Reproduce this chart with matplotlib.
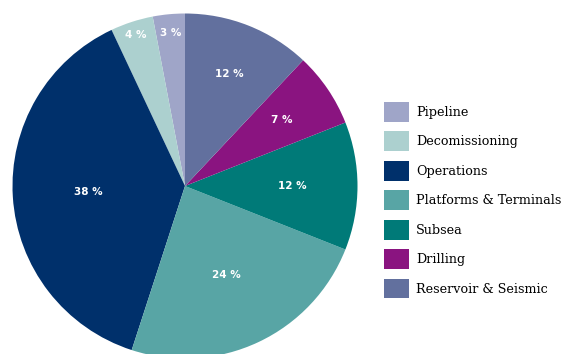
import matplotlib
matplotlib.use("Agg")
import matplotlib.pyplot as plt
import numpy as np

categories = ["Pipeline", "Decomissioning", "Operations", "Platforms & Terminals",
              "Subsea", "Drilling", "Reservoir & Seismic"]
values = [3, 4, 38, 24, 12, 7, 12]
colors = ["#9fa5c8", "#acd0cf", "#00306b", "#58a5a5", "#007a78", "#8a1480", "#62709e"]
label_dist = [0.89, 0.92, 0.56, 0.57, 0.62, 0.68, 0.70]

W, H = 562, 354
fig = plt.figure(figsize=(W / 100, H / 100), dpi=100)
cx, cy, r = 185, 186, 172.5
ax = fig.add_axes([(cx - r) / W, (H - cy - r) / H, 2 * r / W, 2 * r / H])

wedges, _ = ax.pie(values, colors=colors, startangle=90, counterclock=True,
                   radius=1, wedgeprops=dict(linewidth=0))
ax.set_xlim(-1, 1)
ax.set_ylim(-1, 1)
ax.set_aspect("equal")
ax.axis("off")
for w, v, d in zip(wedges, values, label_dist):
    ang = np.deg2rad((w.theta1 + w.theta2) / 2)
    ax.text(d * np.cos(ang), d * np.sin(ang), f"{v} %", ha="center", va="center",
            color="white", fontsize=7.5, fontweight="bold", family="DejaVu Sans")

fs = 9.2
fig.legend(wedges, categories, loc="upper left",
           bbox_to_anchor=(384 / W, 1 - 102 / H), frameon=False,
           prop=dict(family="DejaVu Serif", size=fs),
           handlelength=1.95, handleheight=2.0, labelspacing=0.76,
           handletextpad=0.55, borderpad=0, borderaxespad=0)

fig.savefig("out.png", dpi=100)
